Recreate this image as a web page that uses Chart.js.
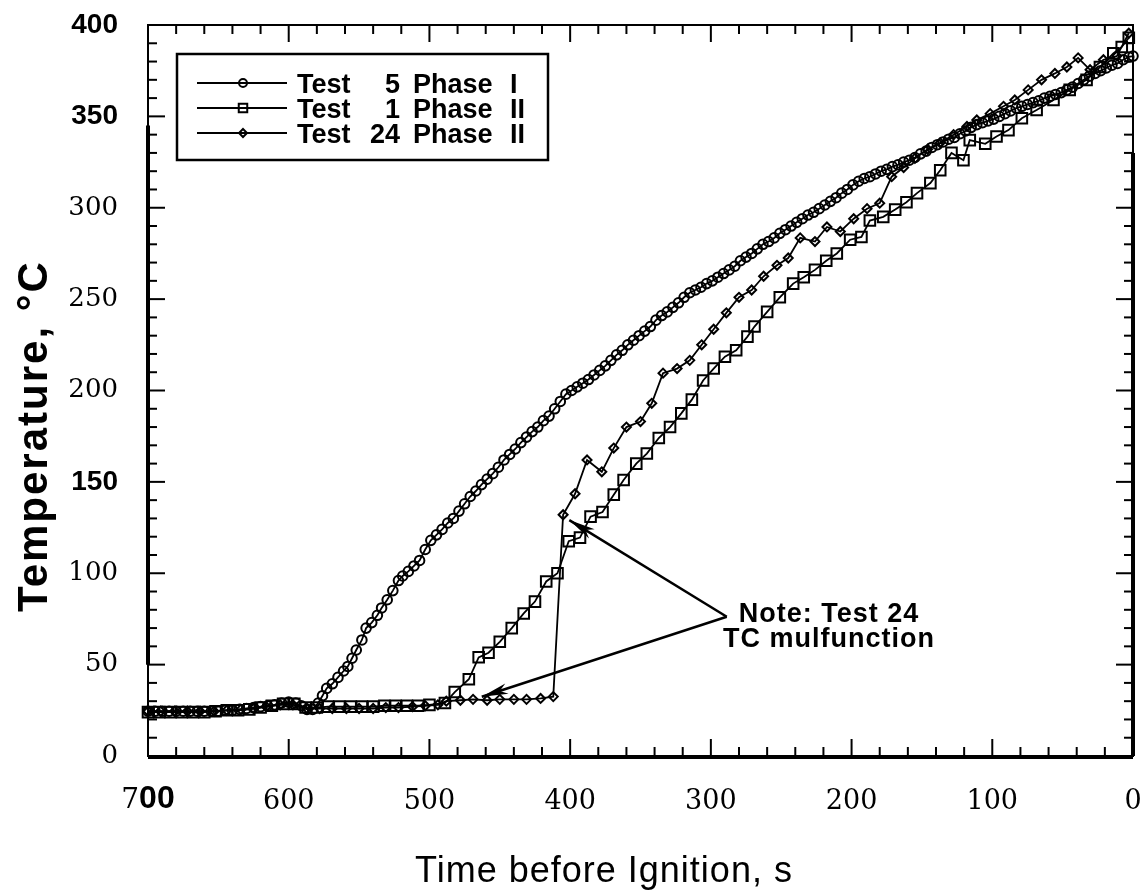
<!DOCTYPE html>
<html><head><meta charset="utf-8">
<script src="https://cdn.jsdelivr.net/npm/chart.js@4.4.1/dist/chart.umd.min.js"></script>
<style>html,body{margin:0;padding:0;background:#fff;}#wrap{width:1145px;height:891px;position:relative;}</style>
</head><body><div id="wrap"><canvas id="c"></canvas></div>
<script>
// ---- data (time before ignition [s], temperature [°C]) ----
const test5Time = [700,695,690,685,680,675,670,665,660,655,
 650,645,640,635,630,625,620,615,610,605,
 600,595,591,587,583,579,576,573,569,565,
 561,558,555,552,548,545,541,537,534,530,
 526,522,519,515,511,507,503,499,495,491,
 487,483,479,475,471,467,463,459,455,451,
 447,443,439,435,431,427,423,419,415,411,
 407,403,399,395,391,387,383,379,375,371,
 367,363,359,355,351,347,343,339,335,331,
 327,323,319,315,311,307,303,299,295,291,
 287,283,279,275,271,267,263,259,255,251,
 247,243,239,235,231,227,223,219,215,211,
 207,203,199,195,191,187,183,179,175,171,
 167,163,159,155,151,147,143,139,135,131,
 127,123,119,115,111,107,103,99,95,91,
 87,83,79,75,71,67,63,59,55,51,
 47,43,39,35,31,27,23,19,15,11,
 7,3,0];
const test5Temp = [24.5,24.5,24.5,24.5,24.5,24.5,24.5,24.5,24.5,24.5,
 24.5,25,25,25.5,26,26.5,27,27.5,28,29,
 29.5,29,27.5,25.5,25.5,29,33,37,39.5,43,
 46.5,49,53.5,58,63.5,70,73,77,81,85.5,
 90.5,96,98.5,101,104,107,113,118,121,124,
 127.5,130,134,138,142,145,148.5,151.5,154.5,158,
 162,165,168,171.5,174.5,177.5,180,183.5,186,190,
 194,198,200,202,204,206,208.5,211,213.5,216.5,
 219.5,222,225,227.5,230,232.5,235,238.5,241,243,
 245.5,248,251,253.5,255,256.5,258.5,260,262,264,
 266,268,271,273,275,277.5,280,281.5,283.5,286,
 288,290,292,294,296,297.5,299.5,301.5,303.5,305.5,
 308,310,312.5,314.5,316,317,318.5,320,321,322.5,
 323.5,325,326,327.5,329.5,331,333,334.5,336,337.5,
 338.5,340.5,342,344,345.5,346.5,347.5,348.5,350,351.5,
 353,354.5,355.5,356.5,357.5,358.5,360,361,362,363,
 364.5,366,368,370,372,373.5,375,376.5,378,379,
 381,382.5,383];

const test1Time = [700,692,684,676,668,660,652,644,636,628,
 620,612,604,596,588,580,572,564,556,548,
 540,532,524,516,508,500,489,482,472,
 465,458,450,441.5,433,425,417,409,401,393,
 385.5,377,369,362,353,345.5,337,329,321,313.5,
 305.5,298,290,282,274,269,260,251,241.5,234,
 226,218,210.5,201,193,187,177.5,169,161,153.5,
 144,137,129,120.5,116,105,97,88.5,79,68.5,
 56.5,45,33,23.5,14,8,3];
const test1Temp = [24,24,24,24,24,24,24.5,25,25,25.5,
 26.5,27.5,28.5,28.5,26.5,26.5,27,27,27,27,
 27,27.5,27.5,27.5,27.5,28,29,35,42,
 54,56.5,62.5,70,78,84.5,95.5,100,117.5,119.5,
 131,133.5,143,151,160,165.5,174,180,187.5,195,
 205.5,212,218.5,222,229.5,235,243,251,258.5,262,
 266,271,275,282.5,284,293,295,299,303,308,
 313.5,320.5,330,326,337,335,339,342.5,349,353.5,
 359,364.5,370,377,384.5,388,393];

const test24Time = [700,691,681,672,663,653,644,634,625,616,
 606,597,587,578,569,559,550,540,531,522,
 512,503,494,488,478,469,459,450,440,431,
 421,412,405,396.5,388,377.5,369,360,350,342,
 334,324,315,306.5,298,289,280,271,262.5,253,
 245,236.5,226,217.5,208,198.5,189,180,171.5,163,
 155,146,137,127.5,118,111,101.5,92,84,74.5,
 65,55.5,47,39,30.5,21,11.5,3];
const test24Temp = [24.5,24.5,24.5,24.5,24.5,24.5,25,25.5,26,27,
 28,28,26,26,26,26,26,26,26.5,26.5,
 27,27.5,28,30,30.5,31,30.5,31,31,31,
 31.5,32.5,132,143.5,162,155.5,168.5,180,183,193,
 209.5,212,216.5,225,233.5,242.5,251,255,262.5,268.5,
 272.5,283.5,281.5,289.5,287,294,299.5,302.5,317,322,
 327,332,335.5,340,344.5,348,351.5,355.5,359,364.5,
 370,373.5,377,382,375.5,381,383,395.5];

const seriesLabels = ['Test 5 Phase I', 'Test 1 Phase II', 'Test 24 Phase II'];
const seriesMarkers = ['circle', 'rect', 'rectRot'];
const boldYTicks = [400, 350, 150];
const xTitleText = 'Time before Ignition, s';
const yTitleText = 'Temperature, °C';
const noteLines = ['Note: Test 24', 'TC mulfunction'];
const noteTextAt = [216, 73.3, 59.6];          // time, temp of line 1, temp of line 2
const noteApex = [288.7, 76.2];                 // arrows start (time, temp)
const noteTips = [[400.6, 129.1], [462.8, 32.4]]; // arrow tips (time, temp)

function pts(t, v){ return t.map((x,i)=>({x:x, y:v[i]})); }

function drawMarker(ctx, style, x, y, r){
  ctx.beginPath();
  if (style==='circle') ctx.arc(x,y,r,0,Math.PI*2);
  else if (style==='rect'){ const s=r*Math.SQRT1_2; ctx.rect(x-s,y-s,2*s,2*s); }
  else { ctx.moveTo(x,y-r); ctx.lineTo(x+r,y); ctx.lineTo(x,y+r); ctx.lineTo(x-r,y); ctx.closePath(); }
  ctx.stroke();
}
function seg(ctx,x1,y1,x2,y2){ ctx.beginPath(); ctx.moveTo(x1,y1); ctx.lineTo(x2,y2); ctx.stroke(); }
function arrow(ctx,x1,y1,x2,y2){
  seg(ctx,x1,y1,x2,y2);
  const a=Math.atan2(y2-y1,x2-x1), L=27, W=0.2;
  ctx.beginPath(); ctx.moveTo(x2,y2);
  ctx.lineTo(x2-L*Math.cos(a-W), y2-L*Math.sin(a-W));
  ctx.lineTo(x2-L*0.7*Math.cos(a), y2-L*0.7*Math.sin(a));
  ctx.lineTo(x2-L*Math.cos(a+W), y2-L*Math.sin(a+W));
  ctx.closePath(); ctx.fill();
}

const deco = {
  id: 'deco',
  afterDraw(chart){
    const ctx = chart.ctx, a = chart.chartArea, xs = chart.scales.x, ys = chart.scales.y;
    ctx.save();
    ctx.strokeStyle = '#000'; ctx.fillStyle = '#000'; ctx.lineCap = 'butt';
    // frame
    ctx.lineWidth = 2;
    ctx.strokeRect(a.left, a.top, a.right - a.left, a.bottom - a.top);
    ctx.lineWidth = 4;
    seg(ctx, a.left, ys.getPixelForValue(345), a.left, ys.getPixelForValue(50));
    seg(ctx, a.right, ys.getPixelForValue(330), a.right, ys.getPixelForValue(0));
    seg(ctx, a.left, a.bottom + 1, a.right, a.bottom + 1);
    // inward ticks
    ctx.lineWidth = 2;
    for (let t = 0; t <= 700; t += 20){
      const px = xs.getPixelForValue(t), L = (t % 100 === 0) ? 17 : 9;
      seg(ctx, px, a.bottom, px, a.bottom - L);
      seg(ctx, px, a.top, px, a.top + L);
    }
    for (let v = 0; v <= 400; v += 10){
      const py = ys.getPixelForValue(v), L = (v % 50 === 0) ? 17 : 9;
      seg(ctx, a.left, py, a.left + L, py);
      seg(ctx, a.right, py, a.right - L, py);
    }
    // "700" tick label drawn in mixed fonts as in the original
    {
      const px = xs.getPixelForValue(700), yb = a.bottom + 52;
      ctx.textBaseline = 'alphabetic';
      const f7 = '28px "DejaVu Serif", serif', f0 = 'bold 32px "Liberation Sans", Arial, sans-serif';
      ctx.font = f7; const w7 = ctx.measureText('7').width;
      ctx.font = f0; const w0 = ctx.measureText('00').width;
      const x0 = px - (w7 + w0) / 2;
      ctx.textAlign = 'left';
      ctx.font = f7; ctx.fillText('7', x0, yb);
      ctx.font = f0; ctx.fillText('00', x0 + w7, yb);
    }
    // legend box
    const bx = a.left + 29, by = a.top + 29, bw = 371, bh = 106;
    ctx.lineWidth = 2.5;
    ctx.strokeRect(bx, by, bw, bh);
    const ds = chart.data.datasets;
    ctx.font = 'bold 27px "Liberation Sans", Arial, sans-serif';
    ds.forEach((d, i) => {
      const ly = by + 29 + i * 25;
      ctx.lineWidth = 2;
      seg(ctx, bx + 20, ly, bx + 110, ly);
      drawMarker(ctx, d.pointStyle, bx + 66, ly, d.pointStyle === 'rect' ? 6 : 4);
      const parts = d.label.split(' ');
      const base = ly + 9.5;
      ctx.textAlign = 'left'; ctx.fillText(parts[0], bx + 120, base);
      ctx.textAlign = 'right'; ctx.fillText(parts[1], bx + 223, base);
      ctx.textAlign = 'left'; ctx.fillText(parts[2], bx + 236, base);
      ctx.fillText(parts[3], bx + 333, base);
    });
    // note + arrows
    const ax = xs.getPixelForValue(noteApex[0]), ay = ys.getPixelForValue(noteApex[1]);
    ctx.lineWidth = 2.5;
    noteTips.forEach(p => arrow(ctx, ax, ay, xs.getPixelForValue(p[0]), ys.getPixelForValue(p[1])));
    ctx.font = 'bold 27px "Liberation Sans", Arial, sans-serif';
    try { ctx.letterSpacing = '1px'; } catch(e) {}
    ctx.textAlign = 'center'; ctx.textBaseline = 'alphabetic';
    const nx = xs.getPixelForValue(noteTextAt[0]);
    ctx.fillText(noteLines[0], nx, ys.getPixelForValue(noteTextAt[1]));
    ctx.fillText(noteLines[1], nx, ys.getPixelForValue(noteTextAt[2]));
    // axis titles
    ctx.font = '36px "Liberation Sans", Arial, sans-serif';
    ctx.fillText(xTitleText, 604, 882);
    ctx.save();
    ctx.translate(47, 436);
    ctx.rotate(-Math.PI / 2);
    ctx.font = 'bold 42px "Liberation Sans", Arial, sans-serif';
    try { ctx.letterSpacing = '2px'; } catch(e) {}
    ctx.fillText(yTitleText, 0, 0);
    ctx.restore();
    ctx.restore();
  }
};

function mk(label, t, v, style, r){
  return {
    label: label, data: pts(t, v),
    borderColor: '#000', borderWidth: 1.8,
    pointStyle: style, pointRadius: r, pointBorderWidth: 2,
    pointBorderColor: '#000', pointBackgroundColor: 'rgba(0,0,0,0)',
    tension: 0, clip: false, fill: false
  };
}

Chart.defaults.font.family = '"DejaVu Serif", serif';
Chart.defaults.color = '#000';

new Chart(document.getElementById('c'), {
  type: 'line',
  data: { datasets: [
    mk(seriesLabels[0], test5Time, test5Temp, seriesMarkers[0], 4.8),
    mk(seriesLabels[1], test1Time, test1Temp, seriesMarkers[1], 7.5),
    mk(seriesLabels[2], test24Time, test24Temp, seriesMarkers[2], 4.5)
  ]},
  options: {
    responsive: true, maintainAspectRatio: false, animation: false,
    layout: { padding: { top: 25, right: 12, left: 0, bottom: 0 } },
    plugins: { legend: { display: false }, tooltip: { enabled: false } },
    scales: {
      x: {
        type: 'linear', min: 0, max: 700, reverse: true,
        grid: { display: false }, border: { display: false },
        ticks: { stepSize: 100, padding: 22, font: { size: 27 },
          callback: (v) => (v === 700 ? '' : String(v)) },
        afterFit(s){ s.height = 135; s.paddingLeft = 0; s.paddingRight = 0; }
      },
      y: {
        type: 'linear', min: 0, max: 400,
        grid: { display: false }, border: { display: false },
        ticks: { stepSize: 50, padding: 22,
          font: (c) => (c.tick && boldYTicks.includes(c.tick.value))
            ? { family: '"Liberation Sans", Arial, sans-serif', weight: 'bold', size: 28 }
            : { family: '"DejaVu Serif", serif', size: 26 } },
        afterFit(s){ s.width = 148; s.paddingTop = 0; s.paddingBottom = 0; }
      }
    }
  },
  plugins: [deco]
});
</script></body></html>
